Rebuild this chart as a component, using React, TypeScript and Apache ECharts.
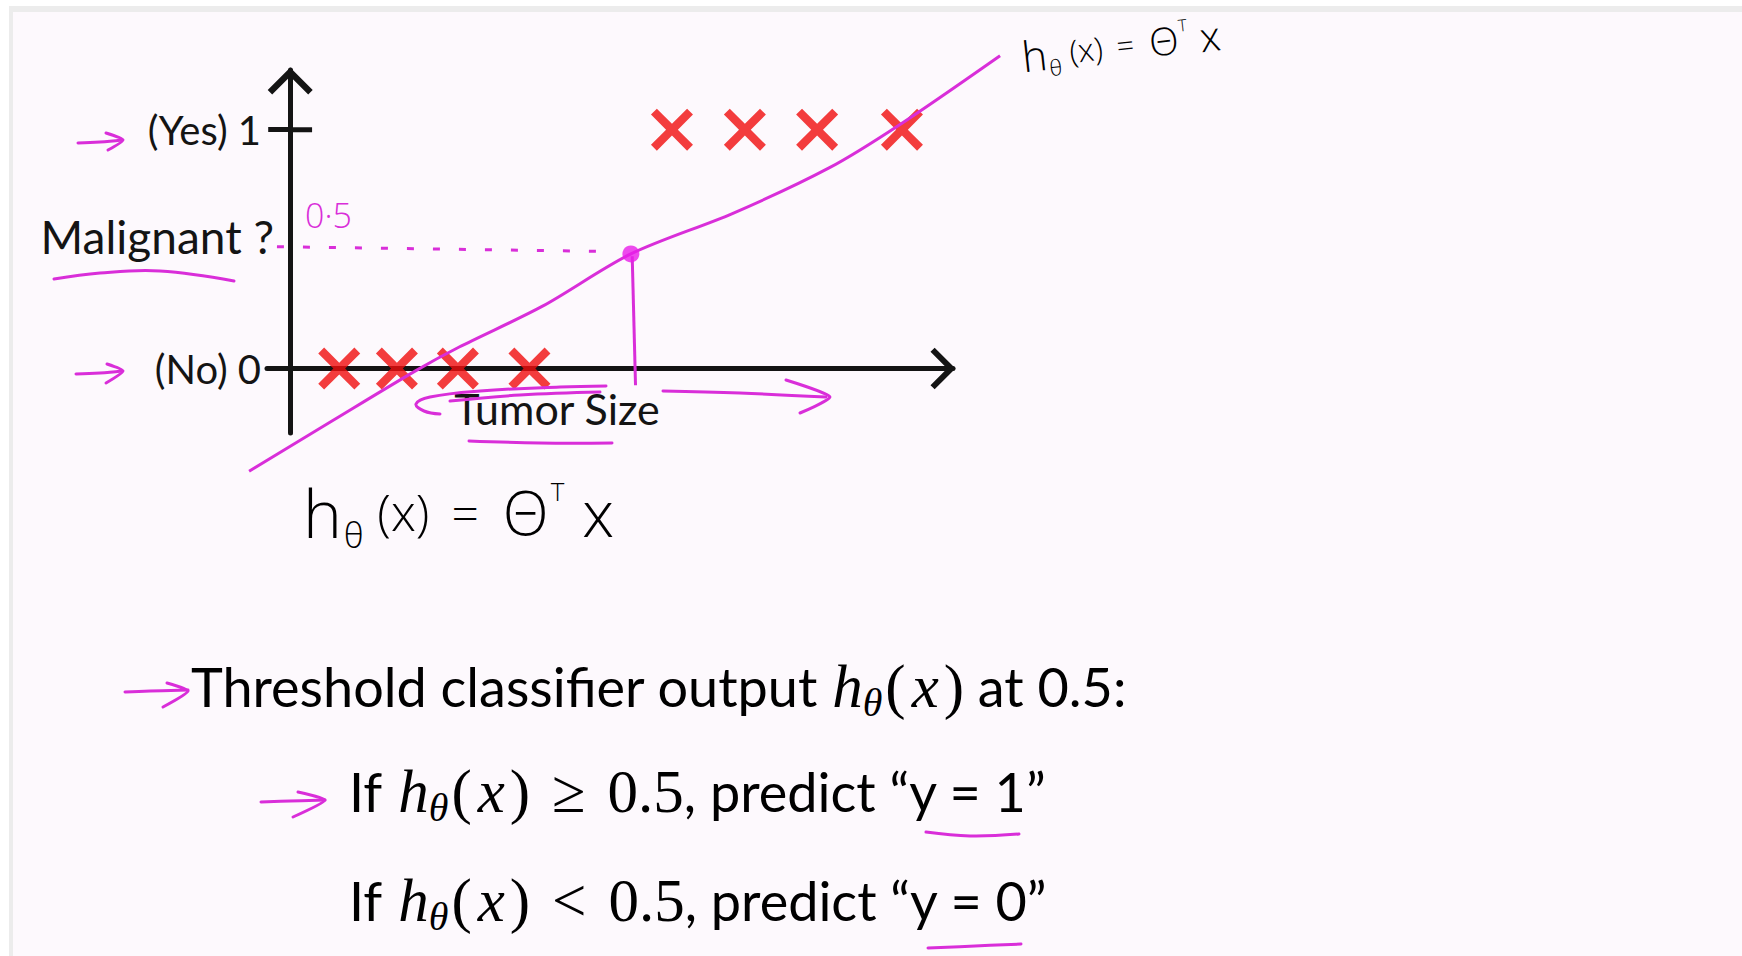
import { useEffect, useRef } from "react";
import * as echarts from "echarts";

// Plot area in pixels and axis extents (tumor size on x, malignancy on y)
const GRID = { left: 267, top: 70, width: 686, height: 363 };
const X_RANGE = [-0.35, 10];
const Y_RANGE = [-0.27, 1.25];
const Y_TICK_VALUES = [0, 1];
const Y_TICK_LABELS = ["(No) 0", "(Yes) 1"];

// Training examples: tumor sizes labelled benign (y = 0) and malignant (y = 1)
const BENIGN_SIZES = [0.74, 1.61, 2.53, 3.61];
const MALIGNANT_SIZES = [5.76, 6.86, 7.95, 9.23];

// Hand-drawn linear hypothesis h(x) = θᵀx
const HYPOTHESIS_X = [-0.62, 0.63, 1.89, 2.55, 3.8, 5.14, 6.68, 8.13, 9.19, 10.71];
const HYPOTHESIS_Y = [-0.43, -0.22, -0.01, 0.09, 0.26, 0.48, 0.65, 0.84, 1.02, 1.31];

// Threshold at 0.5 and where the hypothesis crosses it
const THRESHOLD = 0.5;
const THRESHOLD_GUIDE_X = [-0.2, 4.85];
const THRESHOLD_POINT = [5.14, 0.48];
const DROP_LINE_X = [5.16, 5.21];
const DROP_LINE_Y = [0.47, -0.07];

const INK = "#141414";
const RED = "#f00c0c";
const PINK = "#d92ed9";
const TEXT_FONT = "Lato, 'Open Sans', sans-serif";
const MATH_FONT = "'Liberation Serif', 'DejaVu Serif', serif";
const HAND_FONT = "'Open Sans', 'Noto Sans', sans-serif";

const CROSS_PATH =
  "path://M0,14L14,0L50,36L86,0L100,14L64,50L100,86L86,100L50,64L14,100L0,86L36,50Z";
const CHEVRON_PATH = "path://M0,20L20,0L40,20L36,24L20,8L4,24Z";

const mathRich = {
  t: { fontFamily: TEXT_FONT, fontSize: 54, color: INK, lineHeight: 76 },
  ti: { fontFamily: TEXT_FONT, fontSize: 54, color: INK, lineHeight: 76, padding: [0, 16, 0, 0] },
  mi: { fontFamily: MATH_FONT, fontStyle: "italic", fontSize: 61, color: INK, lineHeight: 76 },
  mx: {
    fontFamily: MATH_FONT,
    fontStyle: "italic",
    fontSize: 61,
    color: INK,
    lineHeight: 76,
    padding: [0, 5, 0, 6],
  },
  mr: { fontFamily: MATH_FONT, fontSize: 61, color: INK, lineHeight: 76 },
  op: { fontFamily: MATH_FONT, fontSize: 61, color: INK, lineHeight: 76, padding: [0, 22, 0, 22] },
  sub: {
    fontFamily: MATH_FONT,
    fontStyle: "italic",
    fontSize: 40,
    color: INK,
    lineHeight: 44,
    padding: [32, 3, 0, 0],
  },
};

// Rich styles for the hand-written formula, scaled by k
function handRich(k: number) {
  const base = { fontFamily: HAND_FONT, color: PINK, fontWeight: 300 };
  return {
    h: { ...base, fontSize: 66 * k, lineHeight: 84 * k },
    s: { ...base, fontSize: 34 * k, lineHeight: 34 * k, padding: [46 * k, 14 * k, 0, 2 * k] },
    b: { ...base, fontSize: 50 * k, lineHeight: 84 * k },
    e: { ...base, fontSize: 48 * k, lineHeight: 84 * k, padding: [0, 24 * k, 0, 22 * k] },
    c: { ...base, fontSize: 60 * k, lineHeight: 84 * k },
    p: { ...base, fontSize: 26 * k, lineHeight: 26 * k, padding: [0, 4 * k, 42 * k, 2 * k] },
    x: { ...base, fontSize: 64 * k, lineHeight: 84 * k, padding: [0, 0, 0, 14 * k] },
  };
}

const HAND_FORMULA = "{h|h}{s|θ}{b|(x)}{e|=}{c|Θ}{p|T}{x|x}";

function stroke(points: number[][], width = 3, smooth = 0.4) {
  return {
    type: "polyline",
    silent: true,
    z: 20,
    shape: { points, smooth },
    style: { stroke: PINK, lineWidth: width, fill: null, lineCap: "round", lineJoin: "round" },
  };
}

function buildOption() {
  const xPerPx = (X_RANGE[1] - X_RANGE[0]) / GRID.width;
  const yPerPx = (Y_RANGE[1] - Y_RANGE[0]) / GRID.height;
  // A larger, invisible grid with the same scale so the hand-drawn line can run past the axes
  const ext = { left: 60, right: 70, top: 45, bottom: 60 };
  const overlay = {
    left: GRID.left - ext.left,
    top: GRID.top - ext.top,
    width: GRID.width + ext.left + ext.right,
    height: GRID.height + ext.top + ext.bottom,
  };
  const overlayX = [X_RANGE[0] - ext.left * xPerPx, X_RANGE[1] + ext.right * xPerPx];
  const overlayY = [Y_RANGE[0] - ext.bottom * yPerPx, Y_RANGE[1] + ext.top * yPerPx];

  const pinkLine = (data: number[][], extra: Record<string, unknown> = {}) => ({
    type: "line",
    data,
    showSymbol: false,
    clip: false,
    silent: true,
    z: 6,
    lineStyle: { color: PINK, width: 3, ...extra },
  });

  return {
    animation: false,
    backgroundColor: "#ffffff",
    grid: [
      { ...GRID, containLabel: false, outerBoundsMode: "none" },
      { ...overlay, containLabel: false, outerBoundsMode: "none" },
    ],
    xAxis: [
      {
        type: "value",
        gridIndex: 0,
        min: X_RANGE[0],
        max: X_RANGE[1],
        splitLine: { show: false },
        axisTick: { show: false },
        axisLabel: { show: false },
        axisLine: {
          onZero: true,
          lineStyle: { color: INK, width: 5 },
          symbol: ["none", CHEVRON_PATH],
          symbolSize: [42, 25],
          symbolOffset: [0, -10],
        },
        name: "Tumor Size",
        nameLocation: "middle",
        nameGap: -46,
        nameMoveOverlap: false,
        nameTextStyle: {
          fontFamily: TEXT_FONT,
          fontSize: 43,
          color: INK,
          padding: [0, 106, 0, 0],
        },
      },
      { type: "value", gridIndex: 1, min: overlayX[0], max: overlayX[1], show: false },
    ],
    yAxis: [
      {
        type: "value",
        gridIndex: 0,
        min: Y_RANGE[0],
        max: Y_RANGE[1],
        splitLine: { show: false },
        axisTick: {
          show: true,
          customValues: [1],
          length: 22,
          lineStyle: { color: INK, width: 5 },
        },
        axisLabel: {
          customValues: Y_TICK_VALUES,
          margin: 6,
          fontFamily: TEXT_FONT,
          fontSize: 40,
          color: INK,
          formatter: (v: number) => {
            const i = Y_TICK_VALUES.indexOf(v);
            return i >= 0 ? Y_TICK_LABELS[i] : "";
          },
        },
        axisLine: {
          onZero: true,
          lineStyle: { color: INK, width: 5 },
          symbol: ["none", CHEVRON_PATH],
          symbolSize: [46, 27],
          symbolOffset: [0, -11],
        },
        name: "{n|Malignant ?}",
        nameLocation: "middle",
        nameRotate: 0,
        nameGap: -7,
        nameMoveOverlap: false,
        nameTextStyle: {
          rich: {
            n: {
              fontFamily: TEXT_FONT,
              fontSize: 46,
              color: INK,
              padding: [0, 0, 30, 0],
            },
          },
        },
      },
      { type: "value", gridIndex: 1, min: overlayY[0], max: overlayY[1], show: false },
    ],
    series: [
      {
        // right half of the tick at y = 1
        type: "line",
        data: [
          [0, 1],
          [0.33, 1],
        ],
        showSymbol: false,
        silent: true,
        z: 1,
        lineStyle: { color: INK, width: 5 },
      },
      {
        type: "scatter",
        data: BENIGN_SIZES.map((x) => [x, 0]),
        symbol: CROSS_PATH,
        symbolSize: 42,
        silent: true,
        z: 3,
        itemStyle: { color: RED },
      },
      {
        type: "scatter",
        data: MALIGNANT_SIZES.map((x) => [x, 1]),
        symbol: CROSS_PATH,
        symbolSize: 42,
        silent: true,
        z: 3,
        itemStyle: { color: RED },
      },
      {
        ...pinkLine(HYPOTHESIS_X.map((x, i) => [x, HYPOTHESIS_Y[i]])),
        xAxisIndex: 1,
        yAxisIndex: 1,
        smooth: 0.3,
      },
      pinkLine(
        [
          [THRESHOLD_GUIDE_X[0], THRESHOLD + 0.01],
          [THRESHOLD_GUIDE_X[1], THRESHOLD - 0.01],
        ],
        { type: [7, 19] }
      ),
      pinkLine(DROP_LINE_X.map((x, i) => [x, DROP_LINE_Y[i]])),
      {
        type: "scatter",
        data: [THRESHOLD_POINT],
        symbol: "circle",
        symbolSize: 17,
        silent: true,
        z: 7,
        itemStyle: { color: "#e81ee8" },
      },
    ],
    graphic: [
      // slide frame
      { type: "rect", z: -10, silent: true, shape: { x: 9, y: 6, width: 1742, height: 956 }, style: { fill: "#ececec" } },
      { type: "rect", z: -10, silent: true, shape: { x: 13, y: 12, width: 1742, height: 956 }, style: { fill: "#fdf9fd" } },

      // threshold label
      {
        type: "text",
        z: 20,
        silent: true,
        x: 305,
        y: 215,
        style: { text: "0·5", fontFamily: HAND_FONT, fontWeight: 300, fontSize: 34, fill: PINK, verticalAlign: "middle" },
      },
      // hypothesis labels
      {
        type: "text",
        z: 20,
        silent: true,
        x: 1022,
        y: 56,
        rotation: 0.11,
        style: { text: HAND_FORMULA, rich: handRich(0.64), verticalAlign: "middle" },
      },
      {
        type: "text",
        z: 20,
        silent: true,
        x: 303,
        y: 512,
        style: { text: HAND_FORMULA, rich: handRich(1), verticalAlign: "middle" },
      },

      // left-hand arrows and underlines
      stroke([[78, 143], [100, 142], [122, 140]]),
      stroke([[106, 133], [123, 140], [108, 150]], 3, 0.2),
      stroke([[76, 374], [100, 373], [122, 371]]),
      stroke([[107, 364], [123, 371], [106, 383]], 3, 0.2),
      stroke([[54, 279], [100, 273], [160, 271], [234, 281]]),
      stroke([[469, 441], [540, 443], [612, 443]]),
      // arrows along the tumor size axis
      stroke([[606, 386], [560, 387], [480, 391], [430, 397], [416, 404], [424, 411], [440, 414]]),
      stroke([[600, 392], [520, 395], [450, 401]]),
      stroke([[663, 391], [740, 393], [826, 397]]),
      stroke([[786, 380], [830, 397], [800, 413]], 3, 0.2),

      // decision rule
      stroke([[125, 692], [150, 691], [188, 690]]),
      stroke([[167, 683], [188, 691], [163, 707]], 3, 0.2),
      {
        type: "text",
        z: 20,
        silent: true,
        x: 191,
        y: 686,
        style: {
          text: "{t|Threshold classifier output }{mi|h}{sub|θ}{mr|(}{mx|x}{mr|)}{t| at 0.5:}",
          rich: mathRich,
          verticalAlign: "middle",
        },
      },
      stroke([[261, 802], [290, 801], [325, 800]]),
      stroke([[298, 792], [325, 800], [293, 817]], 3, 0.2),
      {
        type: "text",
        z: 20,
        silent: true,
        x: 349,
        y: 791,
        style: {
          text: "{ti|If}{mi|h}{sub|θ}{mr|(}{mx|x}{mr|)}{op|≥}{mr|0.5}{t|, predict “y = 1”}",
          rich: mathRich,
          verticalAlign: "middle",
        },
      },
      {
        type: "text",
        z: 20,
        silent: true,
        x: 349,
        y: 900,
        style: {
          text: "{ti|If}{mi|h}{sub|θ}{mr|(}{mx|x}{mr|)}{op|<}{mr|0.5}{t|, predict “y = 0”}",
          rich: mathRich,
          verticalAlign: "middle",
        },
      },
      stroke([[926, 832], [970, 836], [1019, 834]]),
      stroke([[928, 948], [975, 946], [1021, 944]]),
    ],
  };
}

export default function App() {
  const ref = useRef<HTMLDivElement>(null);
  useEffect(() => {
    if (!ref.current) return;
    const chart = echarts.init(ref.current, null, { renderer: "svg" });
    chart.setOption(buildOption() as any);
    return () => chart.dispose();
  }, []);
  return (
    <div
      ref={ref}
      style={{ position: "fixed", left: 0, top: 0, width: 1742, height: 956 }}
    />
  );
}
